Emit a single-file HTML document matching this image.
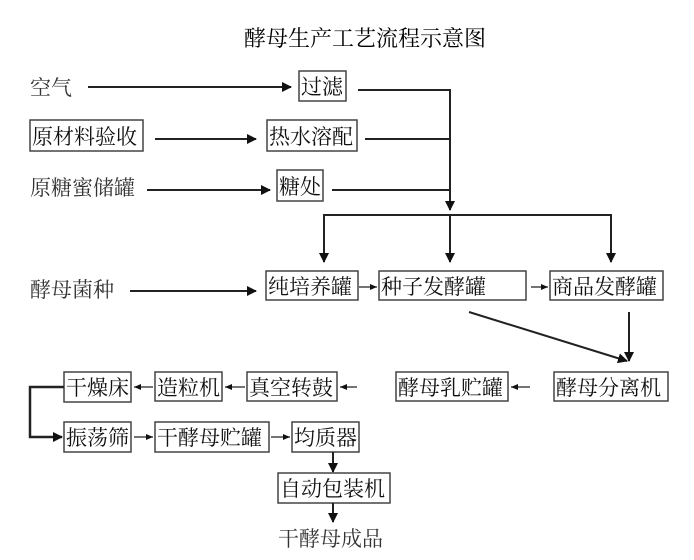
<!DOCTYPE html>
<html><head><meta charset="utf-8"><style>
html,body{margin:0;padding:0;background:#fff;}
svg{display:block;}
text{font-family:"Liberation Serif","Noto Serif CJK SC",serif;font-size:21px;fill:#111;}
rect{fill:#fff;stroke:#444;stroke-width:1.5;}
line,polyline{stroke:#222;stroke-width:2;fill:none;}
.t{stroke-width:1.3}
</style></head><body>
<svg width="694" height="560" viewBox="0 0 694 560" xmlns="http://www.w3.org/2000/svg">
<defs>
<marker id="a" markerWidth="10" markerHeight="10" refX="9" refY="5" orient="auto" markerUnits="userSpaceOnUse"><path d="M0,0 L10,5 L0,10 Z" fill="#111"/></marker>
<marker id="s" markerWidth="7" markerHeight="6" refX="7" refY="3" orient="auto" markerUnits="userSpaceOnUse"><path d="M0,0 L7,3 L0,6 Z" fill="#111"/></marker>
</defs>
<text x="365" y="46" text-anchor="middle" style="font-size:22px;fill:#000">酵母生产工艺流程示意图</text>

<text x="30" y="95" style="fill:#333">空气</text>
<line x1="88" y1="87" x2="291" y2="87" marker-end="url(#a)"/>
<rect x="299" y="71" width="47" height="30"/><text x="301" y="94">过滤</text>
<polyline points="358,90 450,90 450,210" marker-end="url(#a)"/>

<rect x="30" y="120" width="113" height="31"/><text x="32" y="144">原材料验收</text>
<line x1="155" y1="139" x2="256" y2="139" marker-end="url(#a)"/>
<rect x="267" y="120" width="90" height="31"/><text x="269" y="144">热水溶配</text>
<line x1="365" y1="139" x2="450" y2="139"/>

<text x="30" y="195" style="fill:#333">原糖蜜储罐</text>
<line x1="147" y1="190" x2="270" y2="190" marker-end="url(#a)"/>
<rect x="277" y="170" width="46" height="31"/><text x="279" y="194">糖处</text>
<line x1="332" y1="190" x2="450" y2="190"/>

<polyline points="324,262 324,215 611,215 611,262" marker-end="url(#a)"/>
<line x1="324" y1="215" x2="324" y2="262" marker-end="url(#a)"/>
<line x1="450" y1="215" x2="450" y2="262" marker-end="url(#a)"/>

<text x="30" y="297" style="fill:#333">酵母菌种</text>
<line x1="130" y1="291" x2="256" y2="291" marker-end="url(#a)"/>
<rect x="266" y="271" width="92" height="29"/><text x="268" y="294">纯培养罐</text>
<line class="t" x1="359" y1="287" x2="377" y2="287" marker-end="url(#s)"/>
<rect x="379" y="271" width="147" height="29"/><text x="381" y="294">种子发酵罐</text>
<line class="t" x1="531" y1="287" x2="548" y2="287" marker-end="url(#s)"/>
<rect x="550" y="271" width="113" height="29"/><text x="552" y="294">商品发酵罐</text>

<line x1="469" y1="312" x2="627" y2="361" marker-end="url(#a)"/>
<line x1="629" y1="312" x2="629" y2="361" marker-end="url(#a)"/>

<rect x="554" y="372" width="114" height="29"/><text x="556" y="395">酵母分离机</text>
<line class="t" x1="530" y1="387" x2="511" y2="387" marker-end="url(#s)"/>
<rect x="396" y="372" width="112" height="29"/><text x="398" y="395">酵母乳贮罐</text>
<line class="t" x1="357" y1="387" x2="340" y2="387" marker-end="url(#s)"/>
<rect x="247" y="372" width="90" height="29"/><text x="249" y="395">真空转鼓</text>
<line class="t" x1="245" y1="387" x2="225" y2="387" marker-end="url(#s)"/>
<rect x="155" y="372" width="67" height="29"/><text x="157" y="395">造粒机</text>
<line class="t" x1="153" y1="387" x2="134" y2="387" marker-end="url(#s)"/>
<rect x="64" y="372" width="67" height="30"/><text x="66" y="395">干燥床</text>

<polyline points="64,387 30,387 30,437 62,437" marker-end="url(#a)" style="stroke-width:2.5"/>

<rect x="64" y="422" width="67" height="30"/><text x="66" y="445">振荡筛</text>
<line class="t" x1="134" y1="437" x2="153" y2="437" marker-end="url(#s)"/>
<rect x="155" y="422" width="114" height="30"/><text x="157" y="445">干酵母贮罐</text>
<line class="t" x1="271" y1="437" x2="290" y2="437" marker-end="url(#s)"/>
<rect x="292" y="422" width="67" height="30"/><text x="294" y="445">均质器</text>
<line x1="333" y1="452" x2="333" y2="472" marker-end="url(#a)"/>
<rect x="278" y="473" width="112" height="30"/><text x="280" y="496">自动包装机</text>
<line x1="333" y1="503" x2="333" y2="522" marker-end="url(#a)"/>
<text x="278" y="546" style="fill:#333">干酵母成品</text>
</svg>
</body></html>
